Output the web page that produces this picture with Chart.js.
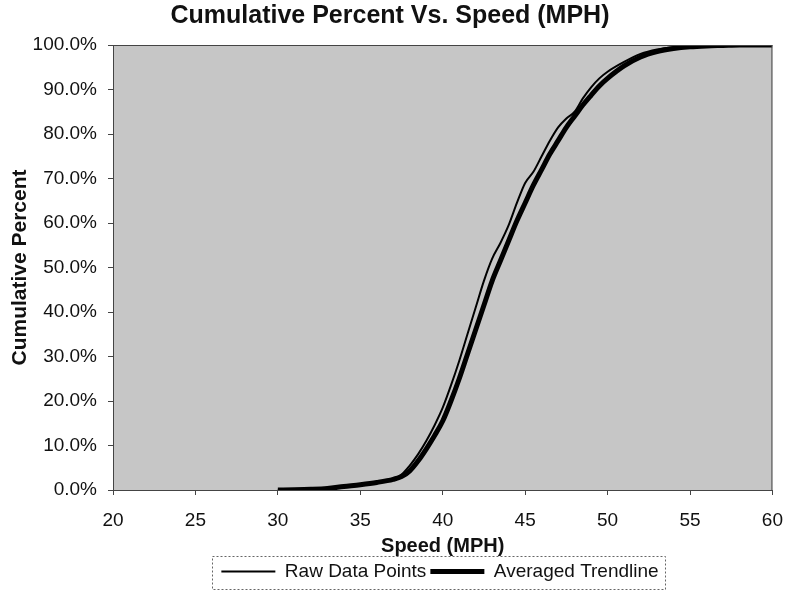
<!DOCTYPE html>
<html>
<head>
<meta charset="utf-8">
<script src="https://cdn.jsdelivr.net/npm/chart.js@4/dist/chart.umd.min.js"></script>
<style>
  html, body { margin: 0; padding: 0; background: #ffffff; }
  #wrap { width: 797px; height: 601px; }
</style>
</head>
<body>
<div id="wrap"><canvas id="c" width="797" height="601"></canvas></div>
<script>
const chartTitle = 'Cumulative Percent Vs. Speed (MPH)';
const xAxisTitle = 'Speed (MPH)';
const yAxisTitle = 'Cumulative Percent';
const seriesNames = ['Raw Data Points', 'Averaged Trendline'];

const speedMph = [30, 31, 32, 33, 34, 35, 36, 37, 37.5, 38, 38.5, 39, 39.5, 40, 40.5, 41, 41.5, 42, 42.5, 43, 43.5, 44, 44.5, 45, 45.5, 46, 46.5, 47, 47.5, 48, 48.5, 49, 49.5, 50, 51, 52, 53, 54, 55, 56, 57, 58, 59, 60];
const rawPercent = [0, 0.1, 0.2, 0.4, 0.9, 1.3, 1.8, 2.6, 3.5, 5.5, 8, 11, 14.5, 18.5, 23.5, 29, 35, 41, 47, 52, 55.5, 59.5, 64.5, 69, 71.5, 75, 78.5, 81.5, 83.5, 85, 88, 90.5, 92.5, 94, 96.2, 98, 99, 99.5, 99.7, 99.9, 100, 100, 100, 100];
const avgPercent = [0, 0.05, 0.15, 0.35, 0.8, 1.2, 1.7, 2.4, 3, 4.3, 6.5, 9.2, 12.2, 15.5, 20, 25, 30.5, 36, 41.5, 47, 51.5, 56, 60.5, 64.5, 68.5, 72, 75.5, 78.5, 81.5, 84, 86.5, 88.7, 90.8, 92.5, 95.3, 97.3, 98.5, 99.2, 99.6, 99.8, 99.9, 100, 100, 100];

const xMin = 20, xMax = 60, xStep = 5;
const yMin = 0, yMax = 100, yStep = 10;

const FONT = '"Liberation Sans", Arial, Helvetica, sans-serif';

const toPoints = (xs, ys) => xs.map((x, i) => ({ x: x, y: ys[i] }));

const plotDecor = {
  id: 'plotDecor',
  afterUpdate(chart) {
    const lg = chart.legend;
    if (!lg) return;
    const d = 440 - (lg.left + lg.right) / 2;
    lg.left += d; lg.right += d;
    lg.adjustHitBoxes();
  },
  beforeDatasetsDraw(chart) {
    const { ctx, chartArea: a } = chart;
    ctx.save();
    ctx.fillStyle = '#c6c6c6';
    ctx.fillRect(a.left, a.top, a.right - a.left, a.bottom - a.top);
    ctx.restore();
  },
  afterDatasetsDraw(chart) {
    const { ctx, chartArea: a } = chart;
    ctx.save();
    ctx.strokeStyle = '#444';
    ctx.lineWidth = 1;
    ctx.strokeRect(a.left + 0.5, a.top + 0.5, a.right - a.left - 1, a.bottom - a.top);
    ctx.restore();
  },
  afterDraw(chart) {
    const lg = chart.legend;
    if (!lg || !lg.legendHitBoxes || !lg.legendHitBoxes.length) return;
    const hb = lg.legendHitBoxes;
    let l = Infinity, r = -Infinity;
    hb.forEach(b => { l = Math.min(l, b.left); r = Math.max(r, b.left + b.width); });
    const ctx = chart.ctx;
    ctx.save();
    ctx.strokeStyle = '#666';
    ctx.lineWidth = 1;
    ctx.setLineDash([2, 2]);
    ctx.strokeRect(Math.round(l - 9) + 0.5, 556.5, Math.round(r - l + 16), 33);
    ctx.restore();
  }
};

new Chart(document.getElementById('c'), {
  type: 'line',
  data: {
    datasets: [
      {
        label: seriesNames[0],
        data: toPoints(speedMph, rawPercent),
        borderColor: '#000',
        backgroundColor: '#000',
        borderWidth: 2,
        pointRadius: 0,
        pointStyle: 'line',
        cubicInterpolationMode: 'monotone',
        order: 1
      },
      {
        label: seriesNames[1],
        data: toPoints(speedMph, avgPercent),
        borderColor: '#000',
        backgroundColor: '#000',
        borderWidth: 5,
        pointRadius: 0,
        pointStyle: 'line',
        cubicInterpolationMode: 'monotone',
        order: 2
      }
    ]
  },
  options: {
    responsive: false,
    animation: false,
    layout: { padding: { left: 0, right: 17, top: 0, bottom: 10 } },
    plugins: {
      title: {
        display: true,
        text: chartTitle,
        color: '#111',
        font: { family: FONT, size: 25, weight: 'bold' },
        padding: { top: 1, bottom: 14 }
      },
      legend: {
        display: true,
        position: 'bottom',
        labels: {
          usePointStyle: true,
          pointStyleWidth: 54,
          color: '#111',
          padding: 4,
          font: { family: FONT, size: 19 }
        }
      },
      tooltip: { enabled: false }
    },
    scales: {
      x: {
        type: 'linear',
        min: xMin, max: xMax,
        afterFit(s) { s.height = 68; },
        ticks: { stepSize: xStep, color: '#111', padding: 14, font: { family: FONT, size: 19 } },
        grid: { display: true, drawOnChartArea: false, drawTicks: true, tickLength: 5, color: '#444' },
        border: { display: true, color: '#444', width: 1 },
        title: { display: true, text: xAxisTitle, color: '#111', font: { family: FONT, size: 20, weight: 'bold' }, padding: { top: 0, bottom: 0 } }
      },
      y: {
        min: yMin, max: yMax,
        afterFit(s) { s.width = 113; },
        ticks: {
          stepSize: yStep, color: '#111', padding: 11, font: { family: FONT, size: 19 },
          callback: v => v.toFixed(1) + '%'
        },
        grid: { display: true, drawOnChartArea: false, drawTicks: true, tickLength: 5, color: '#444' },
        border: { display: true, color: '#444', width: 1 },
        title: { display: true, text: yAxisTitle, color: '#111', font: { family: FONT, size: 21, weight: 'bold' }, padding: { top: 8, bottom: 0 } }
      }
    }
  },
  plugins: [plotDecor]
});
</script>
</body>
</html>
